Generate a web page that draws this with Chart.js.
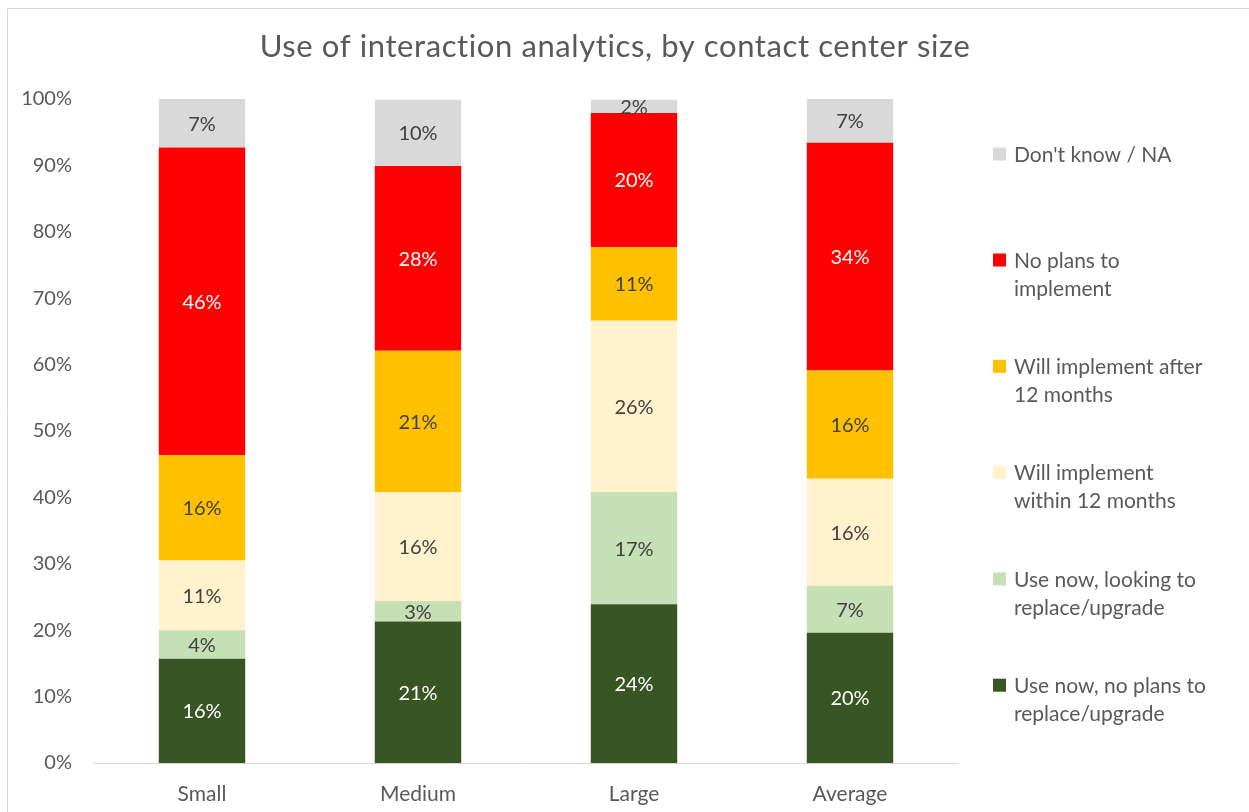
<!DOCTYPE html>
<html>
<head>
<meta charset="utf-8">
<script src="https://cdn.jsdelivr.net/npm/chart.js@4/dist/chart.umd.min.js"></script>
<style>
html,body{margin:0;padding:0;background:#fff;overflow:hidden;}
#wrap{position:relative;width:1249px;height:812px;}
</style>
</head>
<body>
<div id="wrap"><canvas id="c" width="1249" height="812"></canvas></div>
<script>
const categories = ["Small", "Medium", "Large", "Average"];
const seriesNames = [
  "Use now, no plans to replace/upgrade",
  "Use now, looking to replace/upgrade",
  "Will implement within 12 months",
  "Will implement after 12 months",
  "No plans to implement",
  "Don't know / NA"
];
const legendLines = [
  ["Use now, no plans to", "replace/upgrade"],
  ["Use now, looking to", "replace/upgrade"],
  ["Will implement", "within 12 months"],
  ["Will implement after", "12 months"],
  ["No plans to", "implement"],
  ["Don't know / NA"]
];
const useNowNoPlans   = [15.7, 21.3, 23.9, 19.6];
const useNowReplace   = [4.3, 3.1, 16.9, 7.1];
const within12        = [10.5, 16.4, 25.8, 16.1];
const after12         = [15.9, 21.3, 11.1, 16.3];
const noPlans         = [46.3, 27.8, 20.2, 34.3];
const dontKnow        = [7.3, 10.0, 2.0, 6.6];
const yTicks = [0, 10, 20, 30, 40, 50, 60, 70, 80, 90, 100];
const colors = ["#375623", "#C5E0B4", "#FFF2CC", "#FFC000", "#FF0000", "#D9D9D9"];
const labelColors = ["#FFFFFF", "#404040", "#404040", "#404040", "#FFFFFF", "#404040"];
const seriesValues = [useNowNoPlans, useNowReplace, within12, after12, noPlans, dontKnow];

const FONT = "Lato, 'Open Sans', sans-serif";
const TXT = "#595959";

const datasets = seriesNames.map((n, i) => ({
  label: n,
  data: seriesValues[i],
  backgroundColor: colors[i],
  borderWidth: 0,
  barPercentage: 0.4,
  categoryPercentage: 1.0
}));

const decor = {
  id: "decor",
  beforeDraw(chart) {
    const ctx = chart.ctx;
    ctx.save();
    ctx.fillStyle = "#fff";
    ctx.fillRect(0, 0, chart.width, chart.height);
    ctx.strokeStyle = "#D9D9D9";
    ctx.lineWidth = 1;
    ctx.beginPath();
    ctx.moveTo(7.5, 812);
    ctx.lineTo(7.5, 8.5);
    ctx.lineTo(1249, 8.5);
    ctx.stroke();
    ctx.restore();
  },
  afterDraw(chart) {
    const ctx = chart.ctx;
    ctx.save();
    // title
    ctx.fillStyle = TXT;
    ctx.font = "31px " + FONT;
    if ("letterSpacing" in ctx) ctx.letterSpacing = "0.6px";
    ctx.textAlign = "center";
    ctx.textBaseline = "middle";
    ctx.fillText("Use of interaction analytics, by contact center size", 615, 47);
    if ("letterSpacing" in ctx) ctx.letterSpacing = "0px";
    // data labels
    ctx.font = "20px " + FONT;
    chart.data.datasets.forEach((ds, di) => {
      const meta = chart.getDatasetMeta(di);
      meta.data.forEach((el, i) => {
        const v = ds.data[i];
        const cy = (el.y + el.base) / 2;
        ctx.fillStyle = labelColors[di];
        ctx.fillText(Math.round(v) + "%", el.x, cy + 1);
      });
    });
    // legend
    ctx.textAlign = "left";
    ctx.font = "21px " + FONT;
    const n = legendLines.length;
    for (let k = 0; k < n; k++) {
      const di = n - 1 - k;
      const lines = legendLines[di];
      const y0 = k === 0 ? 154 : 260 + (k - 1) * 106.3;
      ctx.fillStyle = colors[di];
      ctx.fillRect(993, y0 - 6.5, 13, 13);
      ctx.fillStyle = TXT;
      lines.forEach((t, li) => ctx.fillText(t, 1014, y0 + li * 28 + 1));
    }
    ctx.restore();
  }
};

new Chart(document.getElementById("c"), {
  type: "bar",
  data: { labels: categories, datasets },
  options: {
    responsive: false,
    animation: false,
    devicePixelRatio: 1,
    layout: { padding: { top: 99, right: 291, bottom: 0, left: 0 } },
    plugins: { legend: { display: false }, title: { display: false }, tooltip: { enabled: false } },
    scales: {
      x: {
        stacked: true,
        grid: { display: false, drawTicks: false },
        border: { display: true, color: "#D9D9D9", width: 1 },
        ticks: { color: TXT, font: { family: FONT, size: 21 }, padding: 19 },
        afterFit(s) { s.height = 49; }
      },
      y: {
        stacked: true,
        min: 0, max: 100,
        afterBuildTicks(s) { s.ticks = yTicks.map(v => ({ value: v })); },
        grid: { display: false, drawTicks: false },
        border: { display: false },
        ticks: { color: TXT, font: { family: FONT, size: 20 }, padding: 22, callback: v => v + "%" },
        afterFit(s) { s.width = 94; }
      }
    }
  },
  plugins: [decor]
});
</script>
</body>
</html>
